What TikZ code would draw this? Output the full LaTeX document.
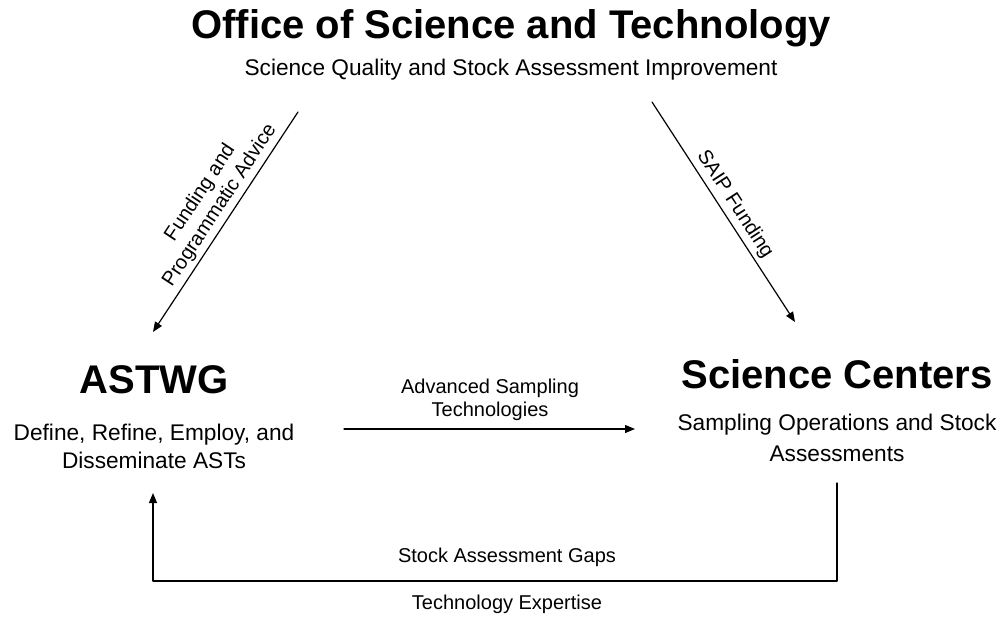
\documentclass[tikz,border=0pt]{standalone}
\usepackage{fontspec}
\setmainfont{Liberation Sans}
\usetikzlibrary{arrows.meta}

\begin{document}
\begin{tikzpicture}[
  x=0.75pt, y=-0.75pt,
  line cap=round,
  line join=round,
  heading/.style={font=\fontsize{30}{36}\selectfont\bfseries, inner sep=0pt},
  remark/.style={font=\fontsize{17}{21}\selectfont, align=center, inner sep=0pt},
  flowlabel/.style={font=\fontsize{15}{17.5}\selectfont, align=center, inner sep=0pt},
  flow/.style={line width=0.9pt, -{Triangle[length=7.5pt,width=6pt]}}
]

% page: 1003 x 617
\useasboundingbox (0,0) rectangle (1003,617);

% --- the three parties ---
\node[heading] (ost) at (511,28) {Office of Science and Technology};
\node[remark] (ostsub) at (511,70) {Science Quality and Stock Assessment Improvement};

\node[heading] (astwg) at (154,380) {ASTWG};
\node[remark] (astwgsub) at (154,446) {Define, Refine, Employ, and\\Disseminate ASTs};

\node[heading] (centers) at (837,374) {Science Centers};
\node[remark, font=\fontsize{17}{23}\selectfont] (centerssub) at (837,438) {Sampling Operations and Stock\\Assessments};

% --- end points of the flows ---
\coordinate (fundfrom) at (298,112);
\coordinate (fundto) at (153,332);
\coordinate (saipfrom) at (652,102);
\coordinate (saipto) at (795,322);
\coordinate (astfrom) at (344,429);
\coordinate (astto) at (635,429);
\coordinate (gapsfrom) at (837,483);
\coordinate (gapsto) at (153,493);
\coordinate (loop) at (507,581);

% --- flows between them ---
\draw[flow] (fundfrom) -- (fundto);
\path (fundto) -- (fundfrom)
  node[flowlabel, sloped, above=3pt, pos=0.54] (fundlabel) {Funding and\\Programmatic Advice};

\draw[flow] (saipfrom) -- (saipto);
\path (saipfrom) -- (saipto)
  node[flowlabel, sloped, above=3pt, pos=0.5] (saiplabel) {SAIP Funding};

\draw[flow] (astfrom) -- (astto);
\node[flowlabel] (astlabel) at (490,400) {Advanced Sampling\\Technologies};

% feedback loop under the two lower parties
\draw[flow] (gapsfrom) |- (loop) -| (gapsto);
\node[flowlabel] (gapslabel) at (507,557) {Stock Assessment Gaps};
\node[flowlabel] (expertlabel) at (507,604) {Technology Expertise};

\end{tikzpicture}
\end{document}
